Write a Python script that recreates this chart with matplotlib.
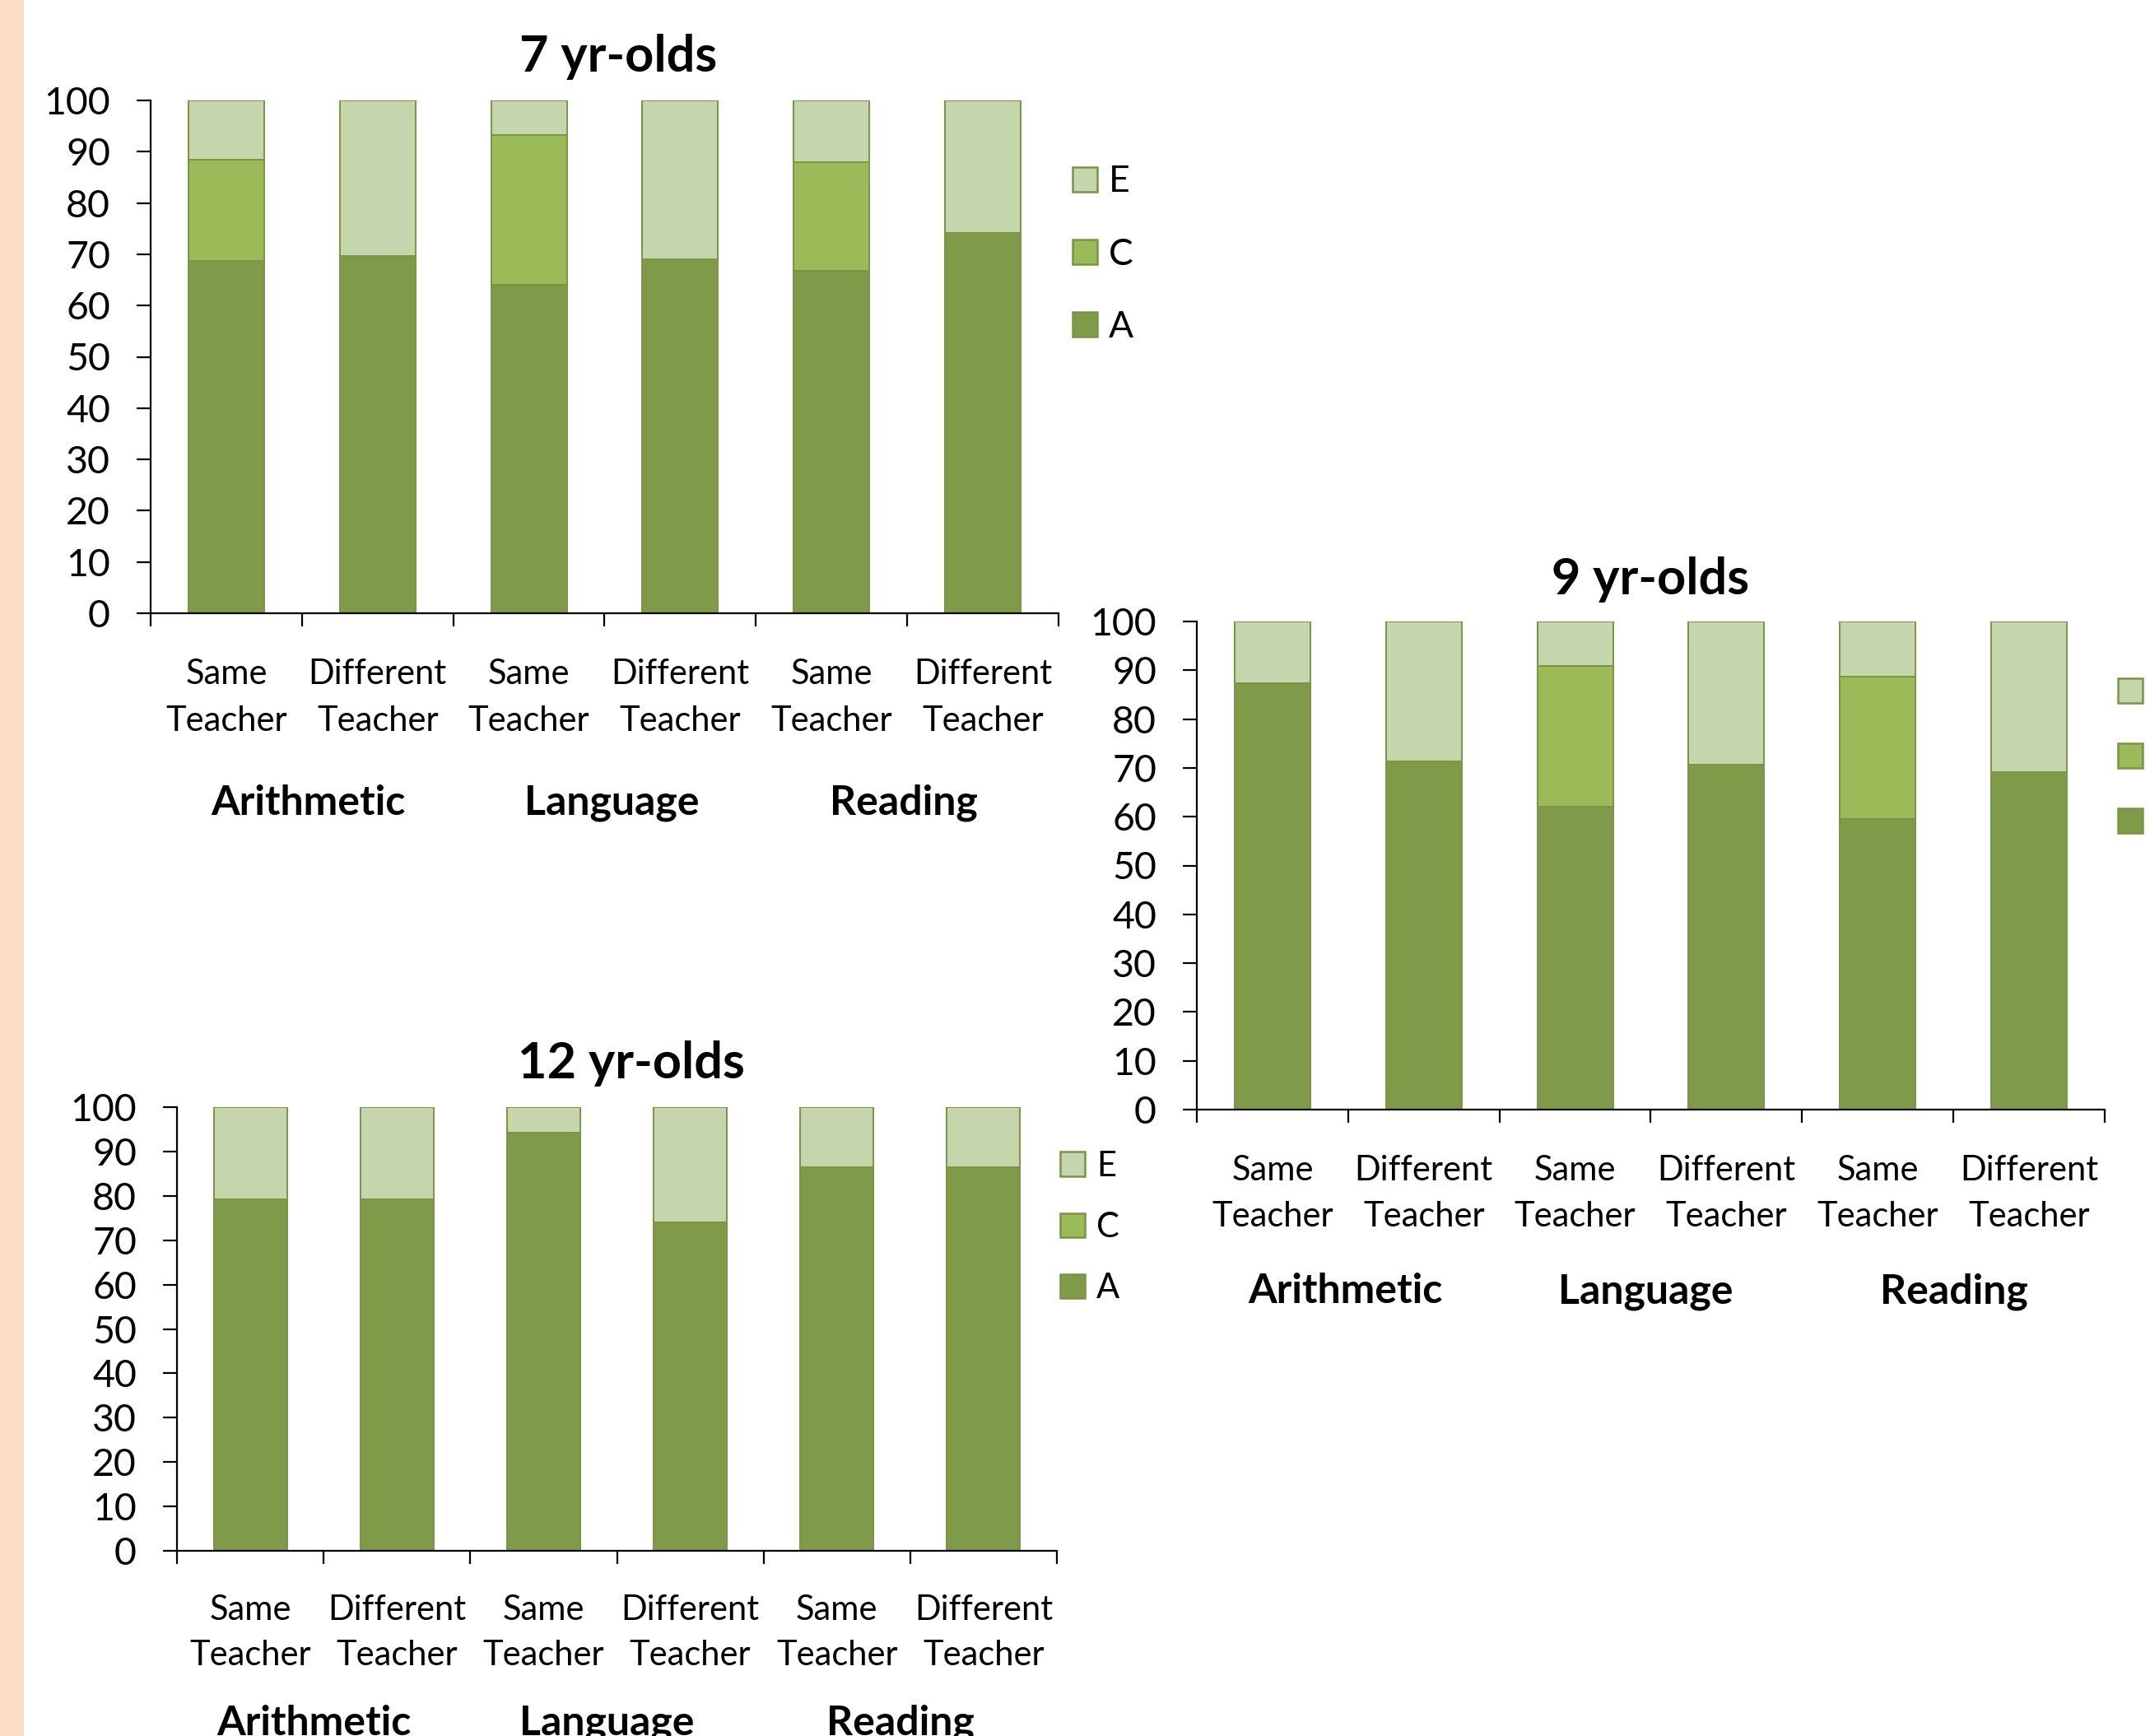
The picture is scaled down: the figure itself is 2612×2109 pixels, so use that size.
import matplotlib
matplotlib.use("Agg")
import matplotlib.pyplot as plt
from matplotlib.patches import Patch, Rectangle
import numpy as np

# ---------------- data ----------------
categories = ["Same\nTeacher", "Different\nTeacher",
              "Same\nTeacher", "Different\nTeacher",
              "Same\nTeacher", "Different\nTeacher"]
subjects = ["Arithmetic", "Language", "Reading"]
series_names = ["A", "C", "E"]
yticks = [0, 10, 20, 30, 40, 50, 60, 70, 80, 90, 100]

titles = ["7 yr-olds", "9 yr-olds", "12 yr-olds"]

a_7 = [68.7, 69.7, 64.1, 69.1, 66.8, 74.2]
c_7 = [19.7, 0.0, 29.1, 0.0, 21.1, 0.0]
e_7 = [11.6, 30.3, 6.8, 30.9, 12.1, 25.8]

a_9 = [87.3, 71.3, 62.1, 70.7, 59.5, 69.2]
c_9 = [0.0, 0.0, 28.8, 0.0, 29.2, 0.0]
e_9 = [12.7, 28.7, 9.1, 29.3, 11.3, 30.8]

a_12 = [79.3, 79.3, 94.2, 74.0, 86.5, 86.5]
c_12 = [0.0, 0.0, 0.0, 0.0, 0.0, 0.0]
e_12 = [20.7, 20.7, 5.8, 26.0, 13.5, 13.5]

# ---------------- style ----------------
W, H, DPI = 2612, 2109, 100
PT = 72.0 / DPI  # points per pixel
FONT = "Lato"
col_a, col_c, col_e = "#7F9A48", "#9BBB59", "#C6D6AC"
edge = "#7A9444"

plt.rcParams["font.family"] = [FONT, "DejaVu Sans"]

fig = plt.figure(figsize=(W / DPI, H / DPI), dpi=DPI)
fig.patch.set_facecolor("white")
fig.patches.append(Rectangle((0, 0), 29 / W, 1, transform=fig.transFigure,
                             facecolor="#FDDCC4", edgecolor="none", zorder=0))


def make_axes(left, top, right, bottom):
    return fig.add_axes([left / W, 1 - bottom / H, (right - left) / W, (bottom - top) / H])


def draw(ax, a, c, e, title, title_x, title_dy, l1, l2, gdy, gdx,
         leg_x, leg_yc, leg_sp, leg_fs):
    x = np.arange(len(categories))
    a = np.array(a); c = np.array(c); e = np.array(e)
    kw = dict(width=0.5, edgecolor=edge, linewidth=1.4, zorder=2)
    ax.bar(x, a, color=col_a, **kw)
    ax.bar(x, c, bottom=a, color=col_c, **kw)
    ax.bar(x, e, bottom=a + c, color=col_e, **kw)

    ax.set_xlim(-0.5, len(categories) - 0.5)
    ax.set_ylim(0, 100)
    ax.set_yticks(yticks)
    ax.set_yticklabels([str(t) for t in yticks], fontsize=33.5)
    ax.set_xticks(np.arange(-0.5, len(categories)))
    ax.set_xticklabels([])
    for s in ["top", "right"]:
        ax.spines[s].set_visible(False)
    for s in ["left", "bottom"]:
        ax.spines[s].set_linewidth(1.6)
        ax.spines[s].set_color("black")
    ax.tick_params(axis="y", direction="out", length=17 * PT, width=1.6, pad=32 * PT)
    ax.tick_params(axis="x", direction="out", length=16 * PT, width=1.6)
    ax.set_facecolor("none")

    trans = ax.get_xaxis_transform()
    for xi, lab in zip(x, categories):
        line_a, line_b = lab.split("\n")
        ax.annotate(line_a, xy=(xi, 0), xycoords=trans, xytext=(0, -l1 * PT),
                    textcoords="offset points", ha="center", va="baseline", fontsize=30,
                    annotation_clip=False)
        ax.annotate(line_b, xy=(xi, 0), xycoords=trans, xytext=(0, -l2 * PT),
                    textcoords="offset points", ha="center", va="baseline", fontsize=30,
                    annotation_clip=False)
    for gi, sub in enumerate(subjects):
        ax.annotate(sub, xy=(2 * gi + 0.5, 0), xycoords=trans,
                    xytext=(gdx[gi] * PT, -gdy * PT),
                    textcoords="offset points", ha="center", va="baseline", fontsize=36,
                    fontweight="bold", annotation_clip=False)

    ax.annotate(title, xy=(title_x, 1), xycoords="axes fraction", xytext=(0, title_dy * PT),
                textcoords="offset points", ha="center", va="baseline", fontsize=44,
                fontweight="bold", annotation_clip=False)

    handles = [Patch(facecolor=col, edgecolor=edge, linewidth=1.8)
               for col in (col_e, col_c, col_a)]
    labels = list(reversed(series_names))
    hpx = 30.0
    fs_px = leg_fs / PT
    row_h = 0.92 * fs_px
    fig.legend(handles, labels, loc="center left",
               bbox_to_anchor=(leg_x / W, 1 - leg_yc / H),
               frameon=False, fontsize=leg_fs, borderpad=0, borderaxespad=0,
               handlelength=hpx / fs_px, handleheight=hpx / fs_px,
               handletextpad=14 / fs_px,
               labelspacing=max(leg_sp - row_h, 0) / fs_px)


ax1 = make_axes(183, 122, 1286, 745)
draw(ax1, a_7, c_7, e_7, titles[0], (751 - 183) / (1286 - 183), 35, 86, 143, 245,
     [8, 9, -4], 1303, 309, 88, 32)

ax2 = make_axes(1454, 755, 2557, 1348)
draw(ax2, a_9, c_9, e_9, titles[1], (2005 - 1454) / (2557 - 1454), 33, 86, 142, 235,
     [-3, -6, 1], 2573, 921, 79, 32)

ax3 = make_axes(215, 1345, 1284, 1884)
draw(ax3, a_12, c_12, e_12, titles[2], (767 - 215) / (1284 - 215), 35, 84, 139, 224,
     [-12, -12, -12], 1288, 1491, 74.5, 30)

fig.savefig("out.png", dpi=DPI, facecolor="white")
